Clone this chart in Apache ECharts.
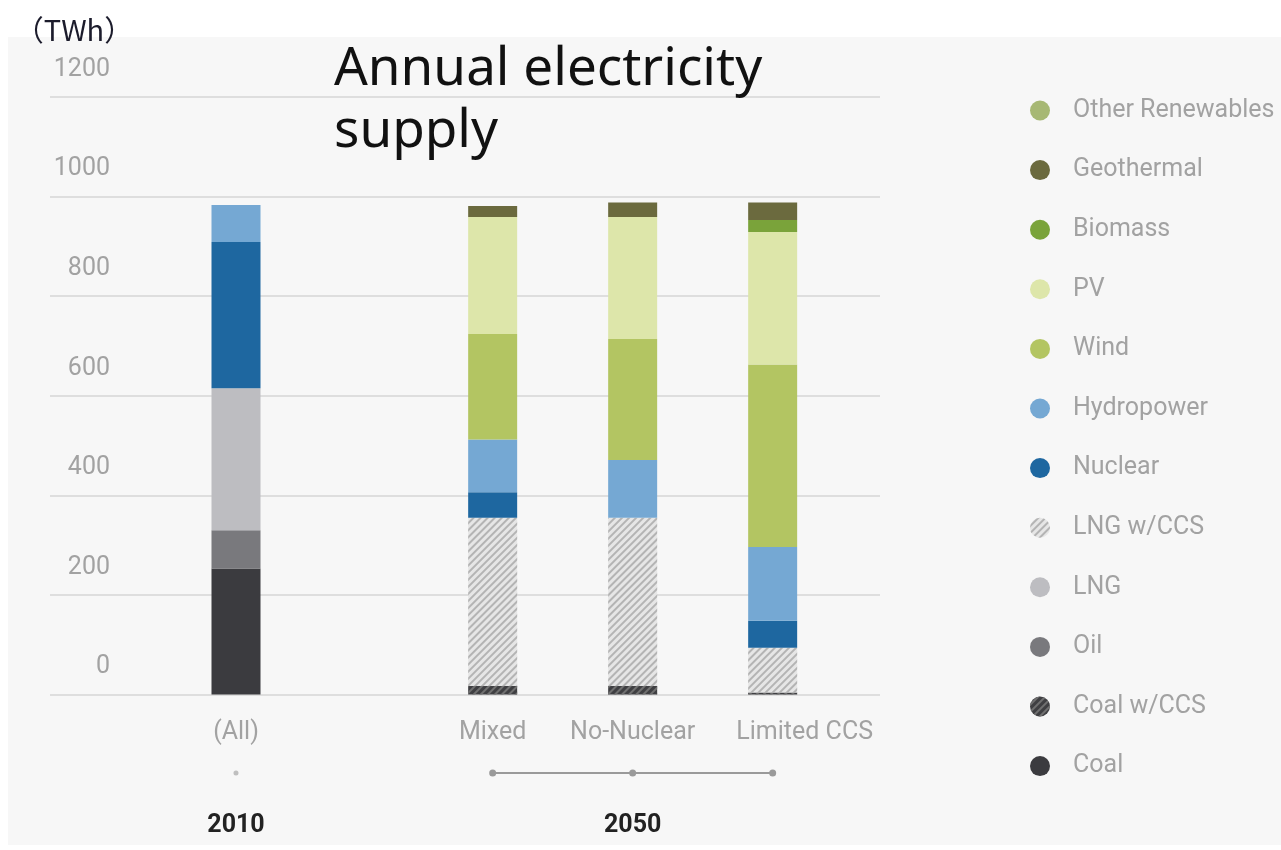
<!DOCTYPE html>
<html>
<head>
<meta charset="utf-8">
<script src="https://cdn.jsdelivr.net/npm/echarts@6/dist/echarts.min.js"></script>
<style>
html,body{margin:0;padding:0;background:#fff;}
#chart{width:1281px;height:850px;}
</style>
</head>
<body>
<div id="chart"></div>
<script>
// ---- data (TWh) ----
const scenarios = ['(All)', 'Mixed', 'No-Nuclear', 'Limited CCS'];
const years = ['2010', '2050'];
const yTicks = [0, 200, 400, 600, 800, 1000, 1200];
// values ordered as [2010 (All), 2050 Mixed, 2050 No-Nuclear, 2050 Limited CCS]
const coal            = [253, 0, 0, 0];
const coalCCS         = [0, 17, 17, 4];
const oil             = [77, 0, 0, 0];
const lng             = [285, 0, 0, 0];
const lngCCS          = [0, 338, 338, 90];
const nuclear         = [294, 51, 0, 54];
const hydropower      = [74, 106, 116, 148];
const wind            = [0, 212, 243, 367];
const pv              = [0, 235, 245, 266];
const biomass         = [0, 0, 0, 24];
const geothermal      = [0, 22, 29, 35];
const otherRenewables = [0, 0, 0, 0];

// ---- layout of category slots (spacing between groups) ----
const slotCount = 24;
const scenarioSlots = [0, 11, 17, 23];
const yearSlots = [0, 17];

function spread(vals, slots) {
  const a = new Array(slotCount).fill(null);
  slots.forEach((s, i) => { a[s] = vals[i]; });
  return a;
}
const scenarioAxis = spread(scenarios, scenarioSlots).map(v => v === null ? '' : v);
const yearAxis = spread(years, yearSlots).map(v => v === null ? '' : v);

const hatch = (c) => ({
  symbol: 'rect', symbolSize: 1, color: c,
  dashArrayX: [1, 0], dashArrayY: [2, 3], rotation: -Math.PI / 4
});

const stackDefs = [
  { name: 'Coal', data: coal, color: '#3b3b3f' },
  { name: 'Coal w/CCS', data: coalCCS, color: '#3f3f42', decal: hatch('#707070') },
  { name: 'Oil', data: oil, color: '#79797d' },
  { name: 'LNG', data: lng, color: '#bdbdc1' },
  { name: 'LNG w/CCS', data: lngCCS, color: '#e6e6e6', decal: hatch('#b4b4b4') },
  { name: 'Nuclear', data: nuclear, color: '#1e67a0' },
  { name: 'Hydropower', data: hydropower, color: '#75a8d3' },
  { name: 'Wind', data: wind, color: '#b3c562' },
  { name: 'PV', data: pv, color: '#dde6aa' },
  { name: 'Biomass', data: biomass, color: '#7aa33a' },
  { name: 'Geothermal', data: geothermal, color: '#6b6a3e' },
  { name: 'Other Renewables', data: otherRenewables, color: '#a7b874' }
];

const txtFont = 'Roboto, "Liberation Sans", sans-serif';

const series = stackDefs.map(d => ({
  name: d.name,
  type: 'bar',
  stack: 'supply',
  xAxisIndex: 1,
  yAxisIndex: 1,
  barWidth: 49,
  clip: false,
  data: spread(d.data, scenarioSlots),
  itemStyle: Object.assign({ color: d.color }, d.decal ? { decal: d.decal } : {}),
  emphasis: { disabled: true }
}));

// group brackets under the axis
series.push({
  name: '_2050', type: 'line', xAxisIndex: 2, yAxisIndex: 2,
  data: spread([null, 0, 0, 0], scenarioSlots), connectNulls: true,
  symbol: 'circle', symbolSize: 7, silent: true, clip: false,
  lineStyle: { color: '#9a9a9a', width: 2 }, itemStyle: { color: '#9a9a9a' }
});
series.push({
  name: '_2010', type: 'scatter', xAxisIndex: 2, yAxisIndex: 2,
  data: spread([0, null, null, null], scenarioSlots),
  symbol: 'circle', symbolSize: 5, silent: true, clip: false,
  itemStyle: { color: '#b0b0b0' }
});

const option = {
  animation: false,
  backgroundColor: '#ffffff',
  graphic: [{
    type: 'rect', z: -10, silent: true,
    shape: { x: 8, y: 37, width: 1273, height: 808 },
    style: { fill: '#f7f7f7' }
  }],
  title: {
    text: 'Annual electricity\nsupply',
    left: 329, top: 34,
    textStyle: { fontFamily: '"Noto Sans", sans-serif', fontSize: 53, fontWeight: 'normal', color: '#111', lineHeight: 62 }
  },
  legend: {
    orient: 'vertical', left: 1025, top: 93,
    icon: 'circle', itemWidth: 20, itemHeight: 20, itemGap: 34.6,
    selectedMode: false,
    data: stackDefs.map(d => d.name).reverse(),
    textStyle: { fontFamily: txtFont, fontSize: 25, color: '#a2a2a2', lineHeight: 24, padding: [0, 0, 0, 18] }
  },
  grid: [
    { left: 50, right: 401, top: 97, bottom: 155.5 },
    { left: 224.33, right: 496.67, top: 97, bottom: 155.5 },
    { left: 224.33, right: 496.67, top: 763, height: 20 }
  ],
  xAxis: [
    { type: 'category', gridIndex: 0, data: [''], show: false },
    {
      type: 'category', gridIndex: 1,
      data: scenarioAxis.map(v => v === 'Limited CCS'
        ? { value: v, textStyle: { padding: [0, 0, 0, 64] } } : v),
      axisLine: { show: false }, axisTick: { show: false },
      axisLabel: { interval: 0, margin: 26, color: '#a2a2a2', fontFamily: txtFont, fontSize: 25 }
    },
    {
      type: 'category', gridIndex: 2, data: yearAxis,
      axisLine: { show: false }, axisTick: { show: false },
      axisLabel: { interval: 0, margin: 30, color: '#222', fontFamily: txtFont, fontSize: 25, fontWeight: 'bold' }
    }
  ],
  yAxis: [
    {
      type: 'value', gridIndex: 0, min: yTicks[0], max: yTicks[yTicks.length - 1], interval: 200,
      name: '（TWh）', nameLocation: 'end', nameGap: 53,
      nameTextStyle: { fontFamily: '"Noto Sans CJK JP", sans-serif', fontSize: 29, color: '#1c1c2c', align: 'center', padding: [0, 0, 0, 48] },
      axisLine: { show: false }, axisTick: { show: false },
      splitLine: { lineStyle: { color: '#d6d6d6', width: 1.5 } },
      axisLabel: {
        inside: true, margin: 60, align: 'right', verticalAlign: 'bottom',
        padding: [0, 0, 15, 0], color: '#a2a2a2', fontFamily: txtFont, fontSize: 25, lineHeight: 25,
        formatter: v => String(v)
      }
    },
    { type: 'value', gridIndex: 1, min: 0, max: 1200, show: false },
    { type: 'value', gridIndex: 2, min: -1, max: 1, show: false }
  ],
  series: series
};

const chart = echarts.init(document.getElementById('chart'), null, { renderer: 'canvas' });
chart.setOption(option);
</script>
</body>
</html>
